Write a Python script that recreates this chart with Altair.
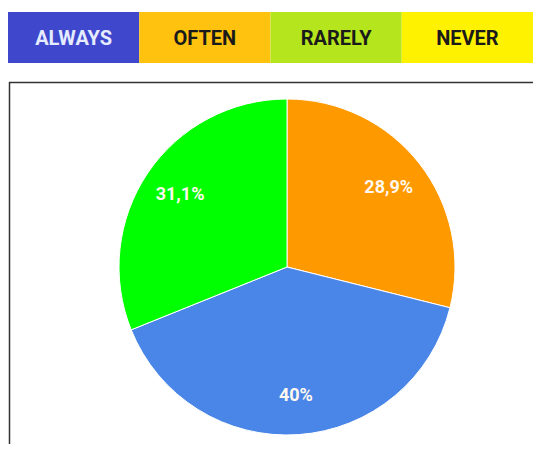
import altair as alt
import pandas as pd

# Header categories
header_labels = ["ALWAYS", "OFTEN", "RARELY", "NEVER"]
header_colors = ["#3F48CC", "#FFC20E", "#B5E61D", "#FFF200"]
header_text_colors = ["#E6ECFF", "#1a1a1a", "#1a1a1a", "#1a1a1a"]

# Pie slices (clockwise from 12 o'clock)
slice_names = ["Slice 1", "Slice 2", "Slice 3"]
slice_values = [28.9, 40.0, 31.1]
slice_labels = ["28,9%", "40%", "31,1%"]
slice_colors = ["#FF9900", "#4A86E8", "#00FF00"]

W, H = 525, 436

header_df = pd.DataFrame({"cat": header_labels, "tc": header_text_colors})
pie_df = pd.DataFrame({
    "name": slice_names,
    "value": slice_values,
    "label": slice_labels,
    "order": list(range(len(slice_names))),
})
dummy = pd.DataFrame({"a": [0]})

xband = alt.X("cat:N", sort=header_labels,
              scale=alt.Scale(paddingInner=0, paddingOuter=0), axis=None)

header_rect = alt.Chart(header_df).mark_rect().encode(
    x=xband,
    y=alt.value(4), y2=alt.value(55),
    color=alt.Color("cat:N", scale=alt.Scale(domain=header_labels, range=header_colors), legend=None),
)

header_text = alt.Chart(header_df).mark_text(
    font="Roboto", fontSize=20, fontWeight="bold", baseline="middle", align="center"
).encode(
    x=xband,
    y=alt.value(31),
    text="cat:N",
    color=alt.Color("tc:N", scale=None),
)

CX, CY, R = 279, 259, 168

pie = alt.Chart(pie_df).mark_arc(stroke="white", strokeWidth=1).encode(
    theta=alt.Theta("value:Q", stack=True),
    color=alt.Color("name:N", scale=alt.Scale(domain=slice_names, range=slice_colors), legend=None),
    order=alt.Order("order:Q"),
    x=alt.value(CX), y=alt.value(CY), radius=alt.value(R),
)

pie_text = alt.Chart(pie_df).mark_text(
    font="Roboto", fontSize=18, fontWeight="bold", color="#FFF8EE", baseline="middle", align="center"
).encode(
    theta=alt.Theta("value:Q", stack=True),
    order=alt.Order("order:Q"),
    text="label:N",
    x=alt.value(CX), y=alt.value(CY), radius=alt.value(129),
)

frame_left = alt.Chart(dummy).mark_rule(color="#333333", strokeWidth=1.5).encode(
    x=alt.value(1.5), y=alt.value(74), y2=alt.value(H)
)
frame_top = alt.Chart(dummy).mark_rule(color="#333333", strokeWidth=1.5).encode(
    x=alt.value(1), x2=alt.value(W), y=alt.value(74.5)
)

chart = alt.layer(
    header_rect, header_text, frame_left, frame_top, pie, pie_text
).resolve_scale(color="independent").properties(
    width=W, height=H, autosize="none", padding=0
).configure_view(stroke=None)

chart.save("out.html", embed_options={"renderer": "svg", "actions": False})
